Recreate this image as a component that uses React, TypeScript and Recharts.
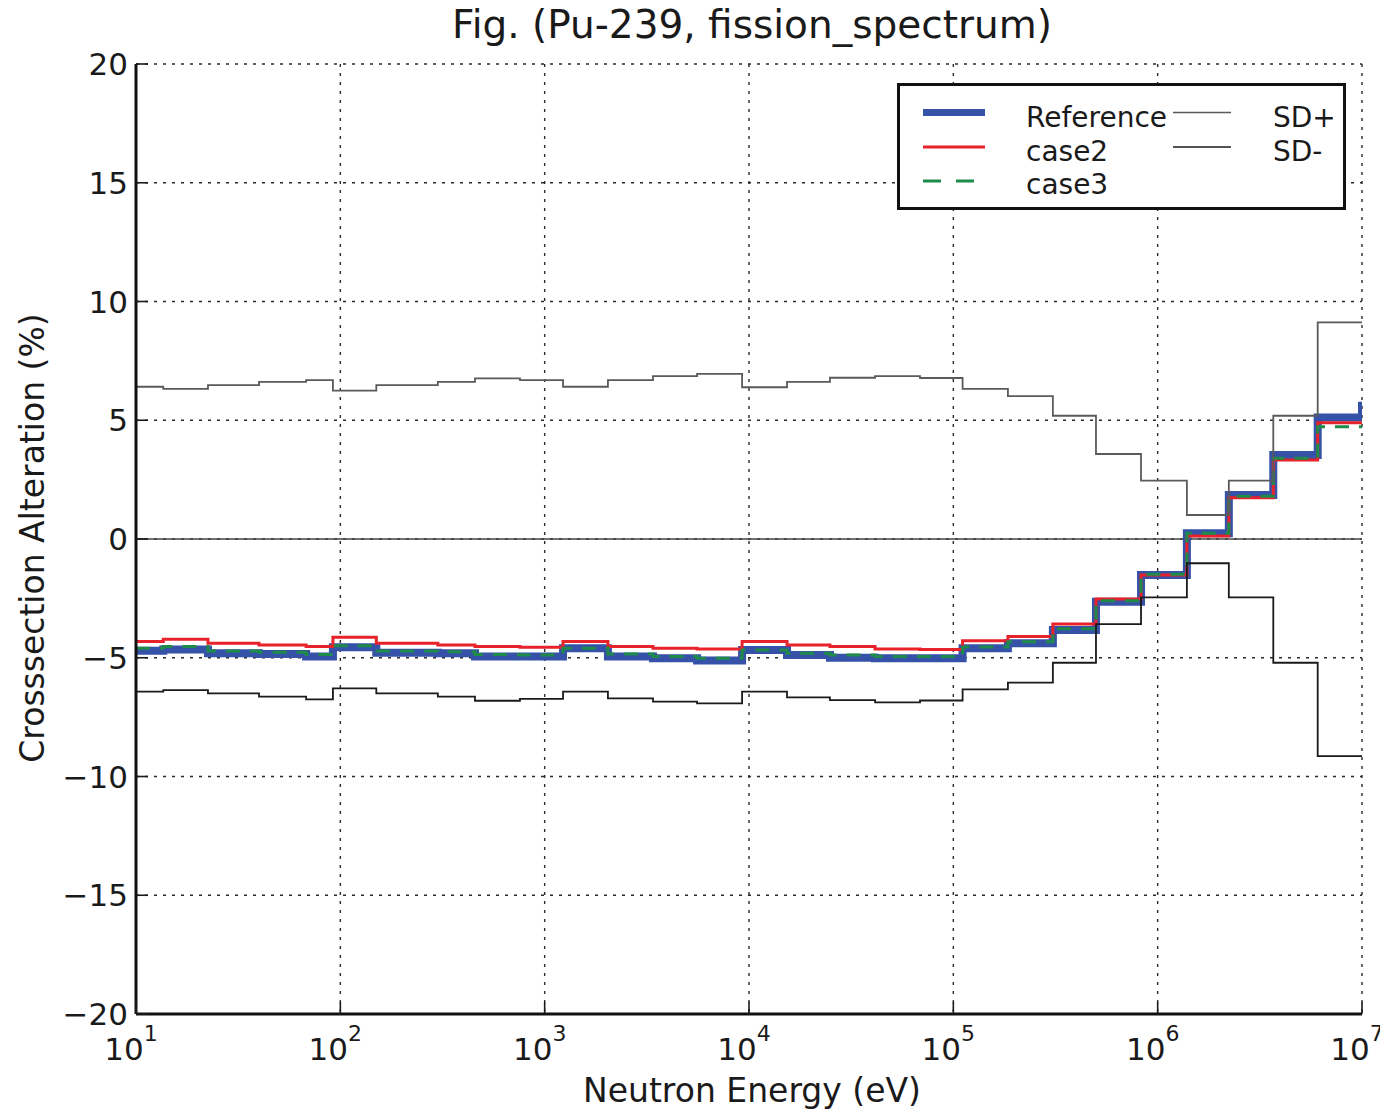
import React from "react";
import { ComposedChart, Line, XAxis, YAxis, CartesianGrid, ReferenceLine, Legend } from "recharts";

// group boundaries (eV), last entry closes the final group
const edges = [
  10, 13.6, 22.5, 40, 68, 92, 150, 300, 456, 757, 1230, 2040, 3390, 5570, 9250,
  15350, 24900, 41400, 68700, 111000, 185000, 307000, 499000, 829000, 1390000,
  2230000, 3680000, 6070000, 10000000,
];

// alteration (%) per group, last value is the point at the upper edge
const reference = [
  -4.7, -4.65, -4.81, -4.84, -4.95, -4.56, -4.79, -4.81, -4.95, -4.95, -4.6, -4.95, -5.02, -5.12,
  -4.67, -4.88, -5.0, -5.02, -5.02, -4.6, -4.39, -3.83, -2.64, -1.52, 0.24, 1.85, 3.54, 5.12, 5.78,
];
const case2 = [
  -4.32, -4.22, -4.39, -4.46, -4.53, -4.14, -4.39, -4.46, -4.53, -4.56, -4.32, -4.53, -4.6, -4.63,
  -4.32, -4.46, -4.53, -4.63, -4.65, -4.28, -4.11, -3.58, -2.53, -1.52, 0.13, 1.74, 3.33, 4.9, 4.9,
];
const case3 = [
  -4.6, -4.53, -4.72, -4.77, -4.86, -4.49, -4.72, -4.75, -4.86, -4.88, -4.6, -4.84, -4.95, -5.02,
  -4.67, -4.81, -4.88, -4.95, -4.95, -4.55, -4.33, -3.78, -2.6, -1.48, 0.24, 1.8, 3.4, 4.73, 4.73,
];
const sdPlus = [
  6.41, 6.32, 6.48, 6.62, 6.69, 6.25, 6.48, 6.62, 6.76, 6.69, 6.41, 6.69, 6.86, 6.95,
  6.39, 6.62, 6.79, 6.86, 6.78, 6.32, 6.02, 5.19, 3.58, 2.46, 1.01, 2.46, 5.19, 9.12, 9.12,
];
const sdMinus = [
  -6.43, -6.36, -6.5, -6.64, -6.75, -6.29, -6.5, -6.64, -6.81, -6.73, -6.43, -6.71, -6.85, -6.92,
  -6.43, -6.67, -6.78, -6.88, -6.8, -6.33, -6.05, -5.21, -3.58, -2.46, -1.02, -2.46, -5.21, -9.14, -9.14,
];

const majorTicks = [10, 100, 1000, 10000, 100000, 1000000, 10000000];
const minorMultipliers = [2, 3, 4, 5, 6, 7, 8, 9];
const minorTicks = majorTicks.slice(0, -1).flatMap((d) => minorMultipliers.map((m) => m * d));
const yTicks = [-20, -15, -10, -5, 0, 5, 10, 15, 20];

const rows = edges.map((e, i) => ({
  e,
  reference: reference[i],
  case2: case2[i],
  case3: case3[i],
  sdPlus: sdPlus[i],
  sdMinus: sdMinus[i],
}));

const series = [
  { key: "reference", name: "Reference", color: "#3552a8", width: 8, dash: undefined as string | undefined },
  { key: "case2", name: "case2", color: "#e8222a", width: 3, dash: undefined },
  { key: "case3", name: "case3", color: "#1f8b4a", width: 3, dash: "14 10" },
  { key: "sdPlus", name: "SD+", color: "#5a5a5a", width: 1.8, dash: undefined },
  { key: "sdMinus", name: "SD-", color: "#1a1a1a", width: 1.8, dash: undefined },
];

const FONT = '"DejaVu Sans", sans-serif';
const INK = "#1a1a1a";

const BottomTick = (props: any) => {
  const { x, y, payload } = props;
  const exp = Math.round(Math.log10(payload.value));
  return (
    <g>
      <line x1={x} y1={y} x2={x} y2={y - 12} stroke={INK} strokeWidth={1.6} />
      <text x={x - 5} y={y + 46} textAnchor="middle" fontSize={31} fill={INK} fontFamily={FONT}>
        10
        <tspan dy={-19} fontSize={22}>
          {exp}
        </tspan>
      </text>
    </g>
  );
};

const MinorBottomTick = (props: any) => {
  const { x, y } = props;
  return <line x1={x} y1={y} x2={x} y2={y - 6} stroke={INK} strokeWidth={1.3} />;
};

const TopTick = (props: any) => {
  const { x, y, payload } = props;
  const isMajor = majorTicks.includes(payload.value);
  return <line x1={x} y1={y} x2={x} y2={y + (isMajor ? 12 : 6)} stroke={INK} strokeWidth={isMajor ? 1.6 : 1.3} />;
};

const LeftTick = (props: any) => {
  const { x, y, payload } = props;
  const v = payload.value;
  const label = v < 0 ? `\u2212${Math.abs(v)}` : `${v}`;
  return (
    <g>
      <line x1={x} y1={y} x2={x + 12} y2={y} stroke={INK} strokeWidth={1.6} />
      <text x={x - 8} y={y + 11} textAnchor="end" fontSize={31} fill={INK} fontFamily={FONT}>
        {label}
      </text>
    </g>
  );
};

const RightTick = (props: any) => {
  const { x, y } = props;
  return <line x1={x} y1={y} x2={x - 12} y2={y} stroke={INK} strokeWidth={1.6} />;
};

const LegendBox = () => {
  const left = series.slice(0, 3);
  const right = series.slice(3);
  const rowY = [29.5, 64, 98];
  const textY = [44, 78, 111];
  return (
    <svg width={449} height={127} style={{ display: "block" }}>
      <rect x={1.5} y={1.5} width={446} height={124} fill="#fff" stroke="#111" strokeWidth={3} />
      {left.map((s, i) => (
        <g key={s.key}>
          <line x1={26} x2={88} y1={rowY[i]} y2={rowY[i]} stroke={s.color} strokeWidth={s.width === 8 ? 7 : s.width} strokeDasharray={s.dash ? "18 15" : undefined} />
          <text x={129} y={textY[i]} fontSize={28} fill={INK} fontFamily={FONT}>
            {s.name}
          </text>
        </g>
      ))}
      {right.map((s, i) => (
        <g key={s.key}>
          <line x1={276} x2={334} y1={rowY[i]} y2={rowY[i]} stroke={s.color} strokeWidth={1.6} />
          <text x={376} y={textY[i]} fontSize={28} fill={INK} fontFamily={FONT}>
            {s.name}
          </text>
        </g>
      ))}
    </svg>
  );
};

export default function App() {
  const W = 1380;
  const H = 1101;
  return (
    <div style={{ position: "relative", width: W, height: H, fontFamily: FONT }}>
      <ComposedChart width={W} height={H} data={rows} margin={{ top: 56, right: 26, bottom: 55, left: 28 }}>
        <CartesianGrid stroke="#2a2a2a" strokeWidth={1.4} strokeDasharray="3 6" />
        <XAxis
          xAxisId="minor"
          type="number"
          scale="log"
          domain={[10, 10000000]}
          allowDataOverflow
          ticks={minorTicks}
          interval={0}
          height={0}
          tickSize={0}
          tickMargin={0}
          tickLine={false}
          axisLine={false}
          tick={<MinorBottomTick />}
        />
        <XAxis
          dataKey="e"
          type="number"
          scale="log"
          domain={[10, 10000000]}
          allowDataOverflow
          ticks={majorTicks}
          interval={0}
          height={40}
          tickSize={0}
          tickMargin={0}
          tickLine={false}
          axisLine={{ stroke: "#111", strokeWidth: 3 }}
          tick={<BottomTick />}
        />
        <XAxis
          xAxisId="top"
          orientation="top"
          type="number"
          scale="log"
          domain={[10, 10000000]}
          allowDataOverflow
          ticks={[...majorTicks, ...minorTicks]}
          interval={0}
          height={0}
          tickSize={0}
          tickMargin={0}
          tickLine={false}
          axisLine={{ stroke: "#111", strokeWidth: 3 }}
          tick={<TopTick />}
        />
        <YAxis
          type="number"
          domain={[-20, 20]}
          allowDataOverflow
          ticks={yTicks}
          interval={0}
          width={100}
          tickSize={0}
          tickMargin={0}
          tickLine={false}
          axisLine={{ stroke: "#111", strokeWidth: 3 }}
          tick={<LeftTick />}
        />
        <YAxis
          yAxisId="r"
          orientation="right"
          type="number"
          domain={[-20, 20]}
          allowDataOverflow
          ticks={yTicks}
          interval={0}
          width={0}
          tickSize={0}
          tickMargin={0}
          tickLine={false}
          axisLine={{ stroke: "#111", strokeWidth: 3 }}
          tick={<RightTick />}
        />
        <ReferenceLine y={0} stroke="#444" strokeWidth={1.5} />
        {series.map((s) => (
          <Line
            key={s.key}
            dataKey={s.key}
            name={s.name}
            type="stepAfter"
            stroke={s.color}
            strokeWidth={s.width}
            strokeDasharray={s.dash}
            dot={false}
            activeDot={false}
            isAnimationActive={false}
          />
        ))}
        <Legend
          layout="horizontal"
          verticalAlign="middle"
          align="center"
          content={<LegendBox />}
          wrapperStyle={{ left: 889, top: 75, width: 449, height: 127 }}
        />
      </ComposedChart>
      <svg width={W} height={H} style={{ position: "absolute", left: 0, top: 0, pointerEvents: "none", overflow: "visible" }}>
        <text x={744} y={30} textAnchor="middle" fontSize={39} fill={INK} fontFamily={FONT}>
          Fig. (Pu-239, fission_spectrum)
        </text>
        <text x={744} y={1094} textAnchor="middle" fontSize={33} fill={INK} fontFamily={FONT}>
          Neutron Energy (eV)
        </text>
        <text x={36} y={530} textAnchor="middle" fontSize={33} fill={INK} fontFamily={FONT} transform="rotate(-90 36 530)">
          Crosssection Alteration (%)
        </text>
      </svg>
    </div>
  );
}
